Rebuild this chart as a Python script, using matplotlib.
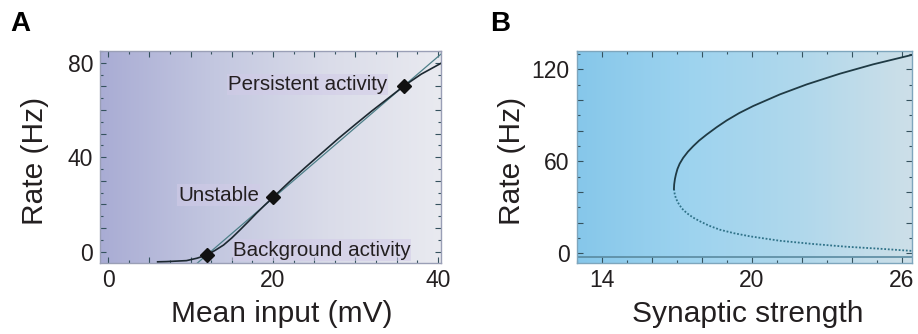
import numpy as np
import matplotlib
matplotlib.use("Agg")
import matplotlib.pyplot as plt
from matplotlib.colors import LinearSegmentedColormap
from matplotlib.ticker import MultipleLocator, FuncFormatter

plt.rcParams['font.family'] = ['Liberation Sans', 'DejaVu Sans']

# A: single-neuron transfer function and the recurrent feedback line
gain_x = [6.0, 7.1, 9.5, 10.75, 12.0, 13.0, 14.0, 15.0, 16.0, 17.0, 18.0, 19.0, 20.0,
          22.0, 24.0, 26.0, 28.0, 30.0, 32.0, 34.0, 35.9, 38.0, 40.4]
gain_rate = [-4.3, -4.2, -3.8, -2.8, -1.4, 0.6, 2.8, 5.8, 9.2, 12.7, 16.3, 19.7, 23.0,
             29.6, 35.9, 42.0, 48.1, 53.9, 59.6, 65.0, 70.2, 75.2, 79.8]
feedback_x = [10.8, 40.4]
feedback_rate = [-4.9, 83.7]

# fixed points where the two curves cross
fixed_x = [12.0, 20.0, 35.9]
fixed_rate = [-1.4, 23.0, 70.2]
fixed_names = ['Background activity', 'Unstable', 'Persistent activity']
name_x = [15.1, 18.3, 33.9]
name_rate = [0.7, 24.0, 71.0]
name_align = ['left', 'right', 'right']

# B: bifurcation diagram vs synaptic strength
stable_w = [16.89, 16.90, 16.93, 16.97, 17.03, 17.12, 17.26, 17.45, 17.66, 17.9, 18.2,
            18.6, 19.0, 19.5, 20.06, 21.13, 22.2, 23.53, 24.86, 26.4]
stable_rate = [42.0, 45.0, 48.5, 51.5, 55.0, 58.5, 62.3, 66.3, 69.9, 73.6, 77.5,
               82.3, 86.7, 91.5, 96.1, 103.7, 110.2, 117.2, 123.3, 129.4]
unstable_w = [16.89, 16.92, 16.97, 17.06, 17.2, 17.4, 17.65, 17.93, 18.3, 18.73, 19.3,
              19.93, 21.13, 22.46, 23.8, 25.13, 26.4]
unstable_rate = [42.0, 38.8, 35.8, 32.9, 29.4, 26.3, 23.4, 20.9, 18.0, 15.4, 13.1,
                 11.1, 8.2, 6.1, 4.3, 3.0, 1.6]
silent_rate = -2.7

fig = plt.figure(figsize=(9.18, 3.34), dpi=100)
axA = fig.add_axes([0.1089, 0.2126, 0.3715, 0.6347])
axB = fig.add_axes([0.6282, 0.2126, 0.3649, 0.6347])


def shade(ax, colors, xlim, ylim):
    cmap = LinearSegmentedColormap.from_list('bg', colors)
    grad = np.linspace(0, 1, 256)[None, :]
    ax.imshow(grad, cmap=cmap, extent=[xlim[0], xlim[1], ylim[0], ylim[1]],
              aspect='auto', zorder=0, interpolation='bilinear')
    ax.set_xlim(xlim)
    ax.set_ylim(ylim)


def style(ax, spine_col, xmaj, xmin, ymaj, ymin, xlab, ylab):
    ax.xaxis.set_major_locator(MultipleLocator(xmaj))
    ax.xaxis.set_minor_locator(MultipleLocator(xmin))
    ax.yaxis.set_major_locator(MultipleLocator(ymaj))
    ax.yaxis.set_minor_locator(MultipleLocator(ymin))
    ax.xaxis.set_major_formatter(FuncFormatter(lambda v, p: f'{v:g}' if xlab(v) else ''))
    ax.yaxis.set_major_formatter(FuncFormatter(lambda v, p: f'{v:g}' if ylab(v) else ''))
    ax.tick_params(which='both', direction='in', top=True, right=True,
                   color='#35525e', width=0.8, labelsize=16.5, labelcolor='#231f20')
    ax.tick_params(which='major', length=4.5)
    ax.tick_params(which='minor', length=2.5)
    ax.tick_params(axis='x', pad=4)
    ax.tick_params(axis='y', pad=5)
    for s in ax.spines.values():
        s.set_color(spine_col)
        s.set_linewidth(1.0)


# ---- panel A
shade(axA, ['#a9acd4', '#c3c7e0', '#dadce9', '#e9eaf0'], (-1, 40.4), (-4.8, 85))
axA.plot(feedback_x, feedback_rate, color='#4d7f88', lw=0.9, zorder=2)
axA.plot(gain_x, gain_rate, color='#1c2830', lw=1.2, zorder=3)
axA.plot(fixed_x, fixed_rate, 'D', color='#111111', ms=7, zorder=4)
for nx, ny, nm, al in zip(name_x, name_rate, fixed_names, name_align):
    axA.text(nx, ny, nm, ha=al, va='center', fontsize=14.8, color='#231f20', zorder=5,
             bbox=dict(boxstyle='square,pad=0.05', fc='#d2cbe8', ec='none', alpha=0.55))
style(axA, '#9a9fb6', 5, 2.5, 10, 5,
      lambda v: abs(v % 20) < 1e-6, lambda v: abs(v % 40) < 1e-6)
axA.set_xlabel('Mean input (mV)', fontsize=21.5, color='#231f20')
axA.set_ylabel('Rate (Hz)', fontsize=21.5, color='#231f20')
axA.xaxis.set_label_coords(0.533, -0.175)
axA.yaxis.set_label_coords(-0.15, 0.48)

# ---- panel B
shade(axB, ['#86c7ea', '#9dd3ef', '#b0d8ec', '#cddfe8'], (13.0, 26.4), (-6.3, 132))
axB.axhline(silent_rate, color='#5a8aa0', lw=1.2, zorder=2)
axB.plot(unstable_w, unstable_rate, color='#2f7288', lw=1.3, ls=(0, (1, 1)), zorder=3)
axB.plot(stable_w, stable_rate, color='#1f3a44', lw=1.3, zorder=3)
style(axB, '#7ea6bd', 2, 1, 20, 10,
      lambda v: abs((v - 14) % 6) < 1e-6, lambda v: abs(v % 60) < 1e-6)
axB.set_xlabel('Synaptic strength', fontsize=21.5, color='#231f20')
axB.set_ylabel('Rate (Hz)', fontsize=21.5, color='#231f20')
axB.xaxis.set_label_coords(0.51, -0.175)
axB.yaxis.set_label_coords(-0.15, 0.48)

fig.text(0.011, 0.907, 'A', fontsize=20, fontweight='bold', va='baseline')
fig.text(0.534, 0.907, 'B', fontsize=20, fontweight='bold', va='baseline')

fig.savefig('out.png', dpi=100)
